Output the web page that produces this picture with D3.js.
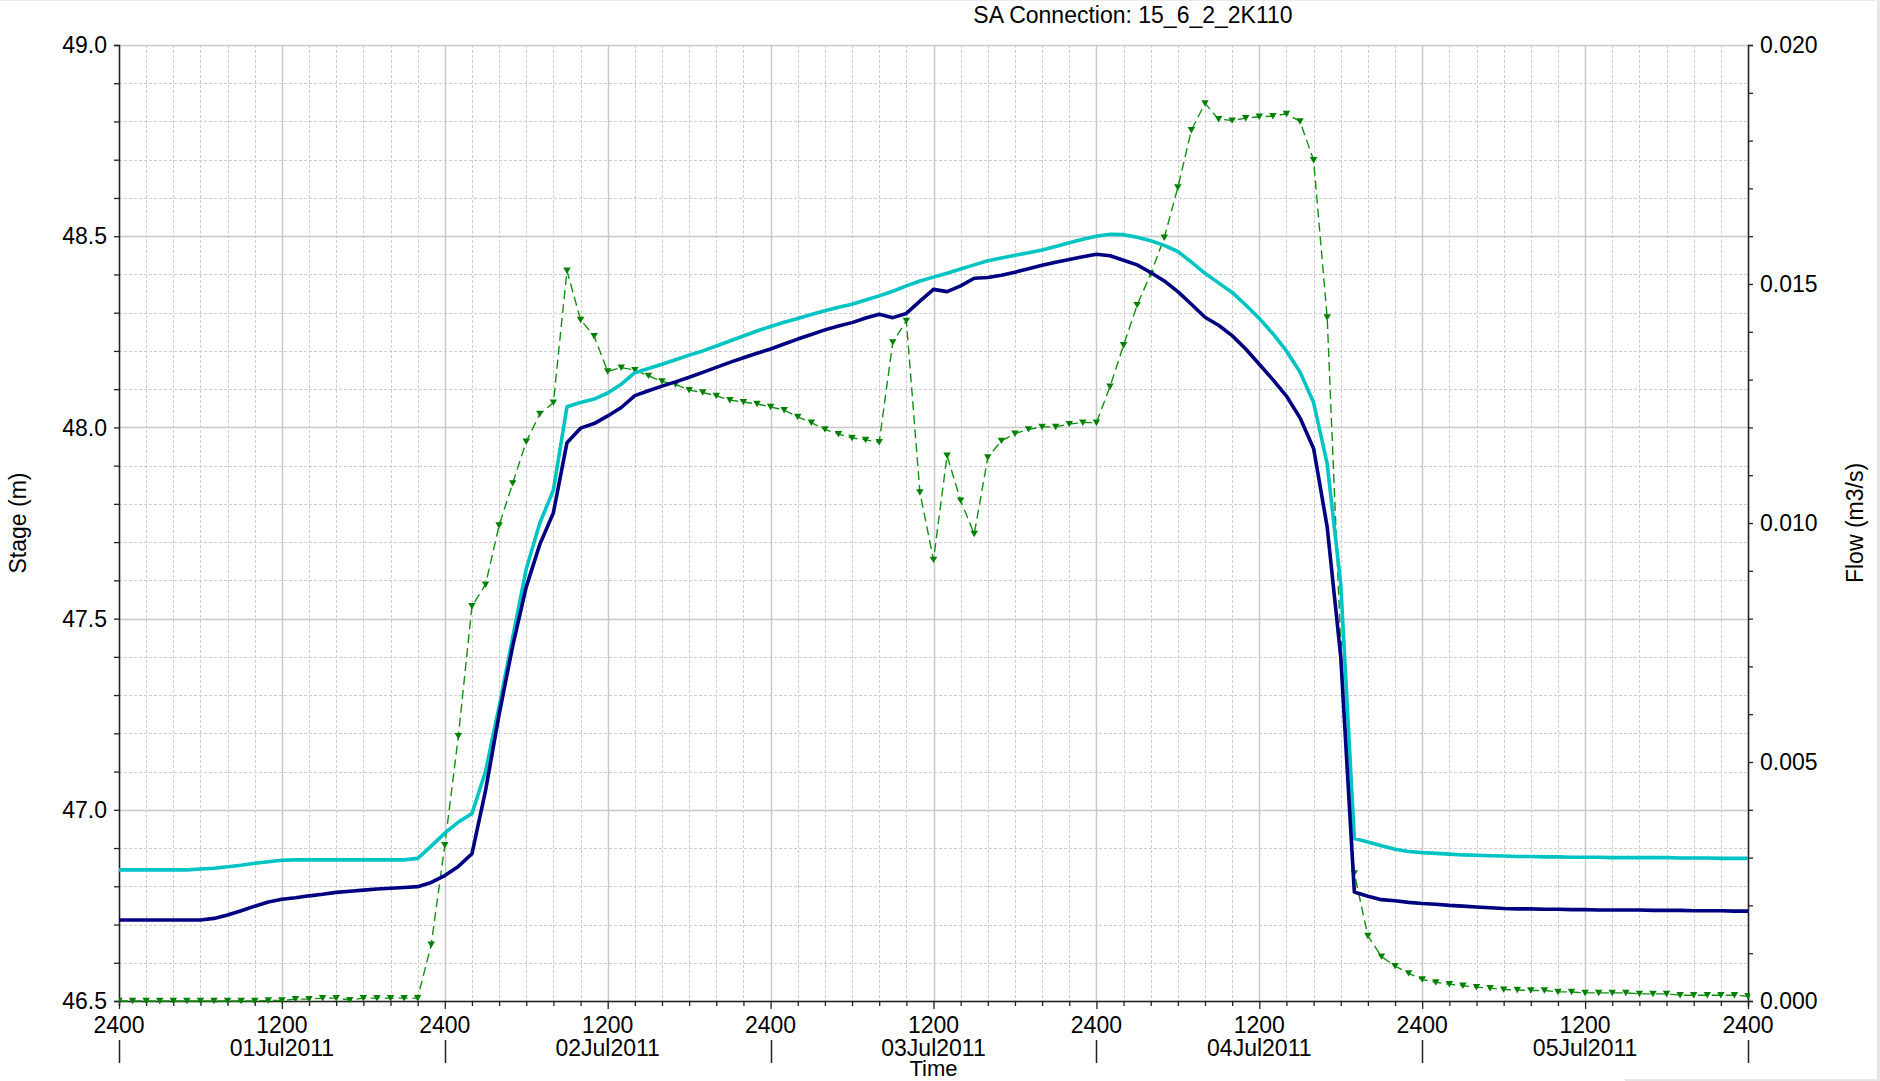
<!DOCTYPE html>
<html>
<head>
<meta charset="utf-8">
<script src="https://cdn.jsdelivr.net/npm/d3@7"></script>
<style>
  html, body { margin: 0; padding: 0; background: #fff; }
  svg { display: block; }
  text { font-family: "Liberation Sans", Arial, sans-serif; fill: #000; }
</style>
</head>
<body>
<script>
// ---------------- DATA ----------------
const chartTitle = "SA Connection: 15_6_2_2K110";
const leftAxisTitle = "Stage (m)";
const rightAxisTitle = "Flow (m3/s)";
const xAxisTitle = "Time";

// hourly samples, hour 0 = 01Jul2011 0000 (30Jun 2400) ... hour 120 = 05Jul2011 2400
const startHour = 0;
const stepHours = 1;

// upstream stage (cyan), m
const stageUpstream = [
  46.843,46.843,46.843,46.843,46.843,46.843,46.845,46.847,46.851,46.855,
  46.860,46.864,46.868,46.869,46.869,46.869,46.869,46.869,46.869,46.869,
  46.869,46.869,46.873,46.905,46.939,46.968,46.990,47.100,47.270,47.450,
  47.630,47.750,47.836,48.054,48.065,48.074,48.090,48.113,48.143,48.154,
  48.165,48.177,48.189,48.200,48.213,48.226,48.239,48.252,48.264,48.275,
  48.285,48.295,48.305,48.314,48.322,48.333,48.344,48.356,48.370,48.383,
  48.393,48.403,48.414,48.425,48.436,48.443,48.450,48.457,48.464,48.473,
  48.483,48.492,48.500,48.505,48.504,48.497,48.488,48.476,48.460,48.432,
  48.403,48.378,48.353,48.320,48.285,48.245,48.200,48.145,48.065,47.905,
  47.590,46.925,46.916,46.906,46.897,46.891,46.888,46.886,46.884,46.882,
  46.881,46.880,46.879,46.878,46.878,46.877,46.877,46.876,46.876,46.876,
  46.875,46.875,46.875,46.875,46.875,46.874,46.874,46.874,46.873,46.873,
  46.873
];

// downstream stage (navy), m
const stageDownstream = [
  46.712,46.712,46.712,46.712,46.712,46.712,46.712,46.716,46.725,46.736,
  46.748,46.759,46.766,46.770,46.775,46.779,46.784,46.787,46.790,46.793,
  46.795,46.797,46.799,46.810,46.828,46.852,46.885,47.050,47.249,47.428,
  47.583,47.694,47.777,47.960,47.998,48.010,48.030,48.052,48.083,48.096,
  48.108,48.119,48.131,48.144,48.157,48.170,48.182,48.194,48.205,48.218,
  48.231,48.243,48.255,48.265,48.274,48.286,48.296,48.287,48.298,48.330,
  48.361,48.355,48.370,48.390,48.392,48.398,48.406,48.415,48.424,48.432,
  48.439,48.446,48.453,48.449,48.437,48.425,48.405,48.383,48.355,48.322,
  48.288,48.267,48.240,48.205,48.165,48.125,48.082,48.025,47.945,47.740,
  47.400,46.785,46.774,46.765,46.762,46.758,46.755,46.753,46.750,46.748,
  46.746,46.744,46.742,46.741,46.741,46.740,46.740,46.739,46.739,46.738,
  46.738,46.738,46.738,46.737,46.737,46.737,46.736,46.736,46.736,46.735,
  46.735
];

// flow (green dashed with markers), m3/s
const flow = [
  0.00000,0.00000,0.00000,0.00000,0.00000,0.00000,0.00000,0.00000,0.00000,0.00000,
  0.00000,0.00001,0.00001,0.00004,0.00004,0.00006,0.00006,0.00002,0.00006,0.00006,
  0.00006,0.00006,0.00006,0.00118,0.00326,0.00554,0.00826,0.00871,0.00995,0.01083,
  0.01170,0.01228,0.01252,0.01528,0.01425,0.01391,0.01317,0.01325,0.01320,0.01308,
  0.01296,0.01290,0.01278,0.01273,0.01266,0.01257,0.01253,0.01249,0.01243,0.01236,
  0.01222,0.01210,0.01196,0.01186,0.01178,0.01174,0.01169,0.01378,0.01423,0.01064,
  0.00923,0.01141,0.01047,0.00977,0.01137,0.01172,0.01187,0.01196,0.01201,0.01201,
  0.01207,0.01210,0.01210,0.01285,0.01372,0.01456,0.01521,0.01597,0.01702,0.01822,
  0.01878,0.01845,0.01842,0.01847,0.01850,0.01851,0.01856,0.01840,0.01759,0.01430,
  0.00746,0.00267,0.00136,0.00093,0.00073,0.00058,0.00045,0.00039,0.00035,0.00032,
  0.00029,0.00027,0.00024,0.00023,0.00022,0.00022,0.00019,0.00019,0.00017,0.00017,
  0.00017,0.00017,0.00015,0.00015,0.00015,0.00012,0.00012,0.00012,0.00012,0.00012,
  0.00010
];

const stageDomain = [46.5, 49.0];
const flowDomain = [0.0, 0.020];
const stageTickLabels = [46.5, 47.0, 47.5, 48.0, 48.5, 49.0];
const flowTickLabels = [0.000, 0.005, 0.010, 0.015, 0.020];

// x labels: every 12 h
const timeTickHours = [0, 12, 24, 36, 48, 60, 72, 84, 96, 108, 120];
const timeTickLabels = ["2400","1200","2400","1200","2400","1200","2400","1200","2400","1200","2400"];
const dayLabelHours = [12, 36, 60, 84, 108];
const dayLabels = ["01Jul2011","02Jul2011","03Jul2011","04Jul2011","05Jul2011"];
const dayBoundaryHours = [0, 24, 48, 72, 96, 120];

// ---------------- LAYOUT ----------------
const W = 1880, H = 1081;
const plot = { left: 119, right: 1748, top: 45, bottom: 1001 };
const FS = 23;

const svg = d3.select("body").append("svg").attr("width", W).attr("height", H);

const hours = stageUpstream.map((d, i) => startHour + i * stepHours);

const x = d3.scaleLinear().domain([0, 120]).range([plot.left, plot.right]);
const yL = d3.scaleLinear().domain(stageDomain).range([plot.bottom, plot.top]);
const yR = d3.scaleLinear().domain(flowDomain).range([plot.bottom, plot.top]);

// faint window frame
svg.append("rect").attr("x", 1877).attr("y", 0).attr("width", 3).attr("height", H).attr("fill", "#e6e6e6");
svg.append("rect").attr("x", 0).attr("y", 0).attr("width", W).attr("height", 1).attr("fill", "#ececec");
svg.append("rect").attr("x", 1625).attr("y", 1079).attr("width", 255).attr("height", 2).attr("fill", "#e6e6e6");

// ---------------- GRID ----------------
const grid = svg.append("g");
const minorH = d3.range(0, 26).map(i => 46.5 + i * 0.1);
minorH.forEach(v => {
  const major = Math.abs((v * 2) - Math.round(v * 2)) < 1e-6;
  grid.append("line")
    .attr("x1", plot.left).attr("x2", plot.right)
    .attr("y1", Math.round(yL(v)) + 0.5).attr("y2", Math.round(yL(v)) + 0.5)
    .attr("stroke", major ? "#c8c8c8" : "#cdcdcd")
    .attr("stroke-width", major ? 1.5 : 1)
    .attr("stroke-dasharray", major ? null : "3,2");
});
d3.range(0, 61).map(i => i * 2).forEach(h => {
  const major = h % 12 === 0;
  grid.append("line")
    .attr("y1", plot.top).attr("y2", plot.bottom)
    .attr("x1", Math.round(x(h)) + 0.5).attr("x2", Math.round(x(h)) + 0.5)
    .attr("stroke", major ? "#c8c8c8" : "#cdcdcd")
    .attr("stroke-width", major ? 1.5 : 1)
    .attr("stroke-dasharray", major ? null : "3,2");
});

// ---------------- AXES ----------------
const leftAxis = d3.axisLeft(yL).tickValues(minorH).tickSize(5).tickFormat("");
const gL = svg.append("g").attr("transform", `translate(${plot.left},0)`).call(leftAxis);
const rightTicks = d3.range(0, 21).map(i => i * 0.001);
const rightAxis = d3.axisRight(yR).tickValues(rightTicks).tickSize(5).tickFormat("");
const gR = svg.append("g").attr("transform", `translate(${plot.right},0)`).call(rightAxis);
const bottomAxis = d3.axisBottom(x).tickValues(d3.range(0, 61).map(i => i * 2))
  .tickSize(5).tickFormat("");
const gB = svg.append("g").attr("transform", `translate(0,${plot.bottom})`).call(bottomAxis);
gB.selectAll(".tick line").filter(d => d % 12 === 0).attr("y2", 8);
[gL, gR, gB].forEach(g => {
  g.selectAll("path.domain").attr("stroke", "#222").attr("stroke-width", 1.5);
  g.selectAll(".tick line").attr("stroke", "#222").attr("stroke-width", 1.3);
});

// left labels
svg.append("g").selectAll("text").data(stageTickLabels).join("text")
  .attr("x", 107).attr("y", d => yL(d)).attr("dy", "0.36em")
  .attr("text-anchor", "end").attr("font-size", FS)
  .text(d => d3.format(".1f")(d));
// right labels
svg.append("g").selectAll("text").data(flowTickLabels).join("text")
  .attr("x", 1760).attr("y", d => yR(d)).attr("dy", "0.36em")
  .attr("text-anchor", "start").attr("font-size", FS)
  .text(d => d3.format(".3f")(d));
// time labels
svg.append("g").selectAll("text").data(timeTickHours).join("text")
  .attr("x", d => x(d)).attr("y", 1033)
  .attr("text-anchor", "middle").attr("font-size", FS)
  .text((d, i) => timeTickLabels[i]);
svg.append("g").selectAll("text").data(dayLabelHours).join("text")
  .attr("x", d => x(d)).attr("y", 1056)
  .attr("text-anchor", "middle").attr("font-size", FS)
  .text((d, i) => dayLabels[i]);
svg.append("g").selectAll("line").data(dayBoundaryHours).join("line")
  .attr("x1", d => Math.round(x(d)) + 0.5).attr("x2", d => Math.round(x(d)) + 0.5)
  .attr("y1", 1040).attr("y2", 1063)
  .attr("stroke", "#222").attr("stroke-width", 1.5);
svg.append("text").attr("x", x(60)).attr("y", 1076)
  .attr("text-anchor", "middle").attr("font-size", 22).text(xAxisTitle);

// titles
svg.append("text").attr("x", 1133).attr("y", 23)
  .attr("text-anchor", "middle").attr("font-size", FS).text(chartTitle);
svg.append("text").attr("transform", `translate(26,${(plot.top + plot.bottom) / 2}) rotate(-90)`)
  .attr("text-anchor", "middle").attr("font-size", FS).text(leftAxisTitle);
svg.append("text").attr("transform", `translate(1863,${(plot.top + plot.bottom) / 2}) rotate(-90)`)
  .attr("text-anchor", "middle").attr("font-size", FS).text(rightAxisTitle);

// ---------------- SERIES ----------------
const clip = svg.append("clipPath").attr("id", "clip").append("rect")
  .attr("x", plot.left).attr("y", plot.top - 4)
  .attr("width", plot.right - plot.left + 2).attr("height", plot.bottom - plot.top + 8);

const series = svg.append("g").attr("clip-path", "url(#clip)");

const lineFlow = d3.line().x((d, i) => x(hours[i])).y(d => yR(d));
series.append("path").datum(flow)
  .attr("d", lineFlow).attr("fill", "none")
  .attr("stroke", "#109010").attr("stroke-width", 1.4)
  .attr("stroke-dasharray", "9,5");

const tri = d3.symbol().type(d3.symbolTriangle).size(24);
series.append("g").selectAll("path").data(flow).join("path")
  .attr("d", tri)
  .attr("transform", (d, i) => `translate(${x(hours[i])},${yR(d) - 1}) rotate(180)`)
  .attr("fill", "#008000");

const lineStage = d3.line().x((d, i) => x(hours[i])).y(d => yL(d));
series.append("path").datum(stageUpstream)
  .attr("d", lineStage).attr("fill", "none")
  .attr("stroke", "#00c4c4").attr("stroke-width", 3.6)
  .attr("stroke-linejoin", "round");
series.append("path").datum(stageDownstream)
  .attr("d", lineStage).attr("fill", "none")
  .attr("stroke", "#000080").attr("stroke-width", 3.6)
  .attr("stroke-linejoin", "round");
</script>
</body>
</html>
